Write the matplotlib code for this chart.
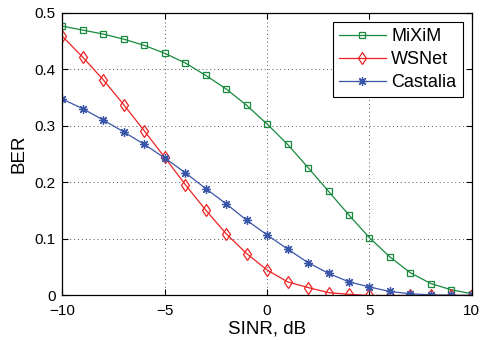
import matplotlib
matplotlib.use("Agg")
import matplotlib.pyplot as plt

plt.rcParams['font.family'] = ['Liberation Sans', 'DejaVu Sans']

sinr = [-10, -9, -8, -7, -6, -5, -4, -3, -2, -1, 0, 1, 2, 3, 4, 5, 6, 7, 8, 9, 10]
mixim = [0.476, 0.469, 0.462, 0.453, 0.442, 0.428, 0.411, 0.389, 0.365, 0.336, 0.303,
         0.267, 0.226, 0.184, 0.142, 0.102, 0.068, 0.040, 0.021, 0.010, 0.003]
wsnet = [0.458, 0.421, 0.381, 0.337, 0.291, 0.244, 0.196, 0.151, 0.109, 0.074, 0.045,
         0.024, 0.014, 0.005, 0.002, 0.0, 0.0, 0.0, 0.0, 0.0, 0.0]
castalia = [0.347, 0.330, 0.310, 0.289, 0.267, 0.243, 0.217, 0.189, 0.162, 0.133, 0.107,
            0.082, 0.058, 0.039, 0.024, 0.015, 0.007, 0.003, 0.001, 0.0005, 0.0]

fig = plt.figure(figsize=(4.8, 3.4), dpi=100)
ax = fig.add_axes([0.13, 0.131, 0.853, 0.832])

ax.plot(sinr, mixim, color='#178a3e', marker='s', markersize=4.6, markerfacecolor='none',
        markeredgewidth=0.9, linewidth=0.9, label='MiXiM')
ax.plot(sinr, wsnet, color='#ee2222', marker='d', markersize=6.5, markerfacecolor='none',
        markeredgewidth=0.9, linewidth=0.9, label='WSNet')
ax.plot(sinr, castalia, color='#3a56a8', marker=(8, 2, 0), markersize=6.5,
        markeredgewidth=0.9, linewidth=0.9, label='Castalia')

ax.set_xlim(-10, 10)
ax.set_ylim(0, 0.5)
ax.set_xticks([-10, -5, 0, 5, 10])
ax.set_yticks([0, 0.1, 0.2, 0.3, 0.4, 0.5])
ax.set_yticklabels(['0', '0.1', '0.2', '0.3', '0.4', '0.5'])
ax.grid(True, linestyle=(0, (1, 3)), color='#555555', linewidth=0.7)
ax.tick_params(direction='in', top=True, right=True, labelsize=11, length=4, width=0.8)
ax.tick_params(axis='x', pad=6)
ax.tick_params(axis='y', pad=5)
for s in ax.spines.values():
    s.set_linewidth(0.9)
ax.set_xlabel('SINR, dB', fontsize=13.5, labelpad=2)
ax.set_ylabel('BER', fontsize=13.5, labelpad=5)

leg = ax.legend(loc='upper right', fontsize=13, fancybox=False, framealpha=1,
                edgecolor='black', handlelength=2.6, borderpad=0.35, labelspacing=0.33,
                handletextpad=0.3, borderaxespad=0.5)
leg.get_frame().set_linewidth(0.8)

fig.savefig('out.png', dpi=100)
